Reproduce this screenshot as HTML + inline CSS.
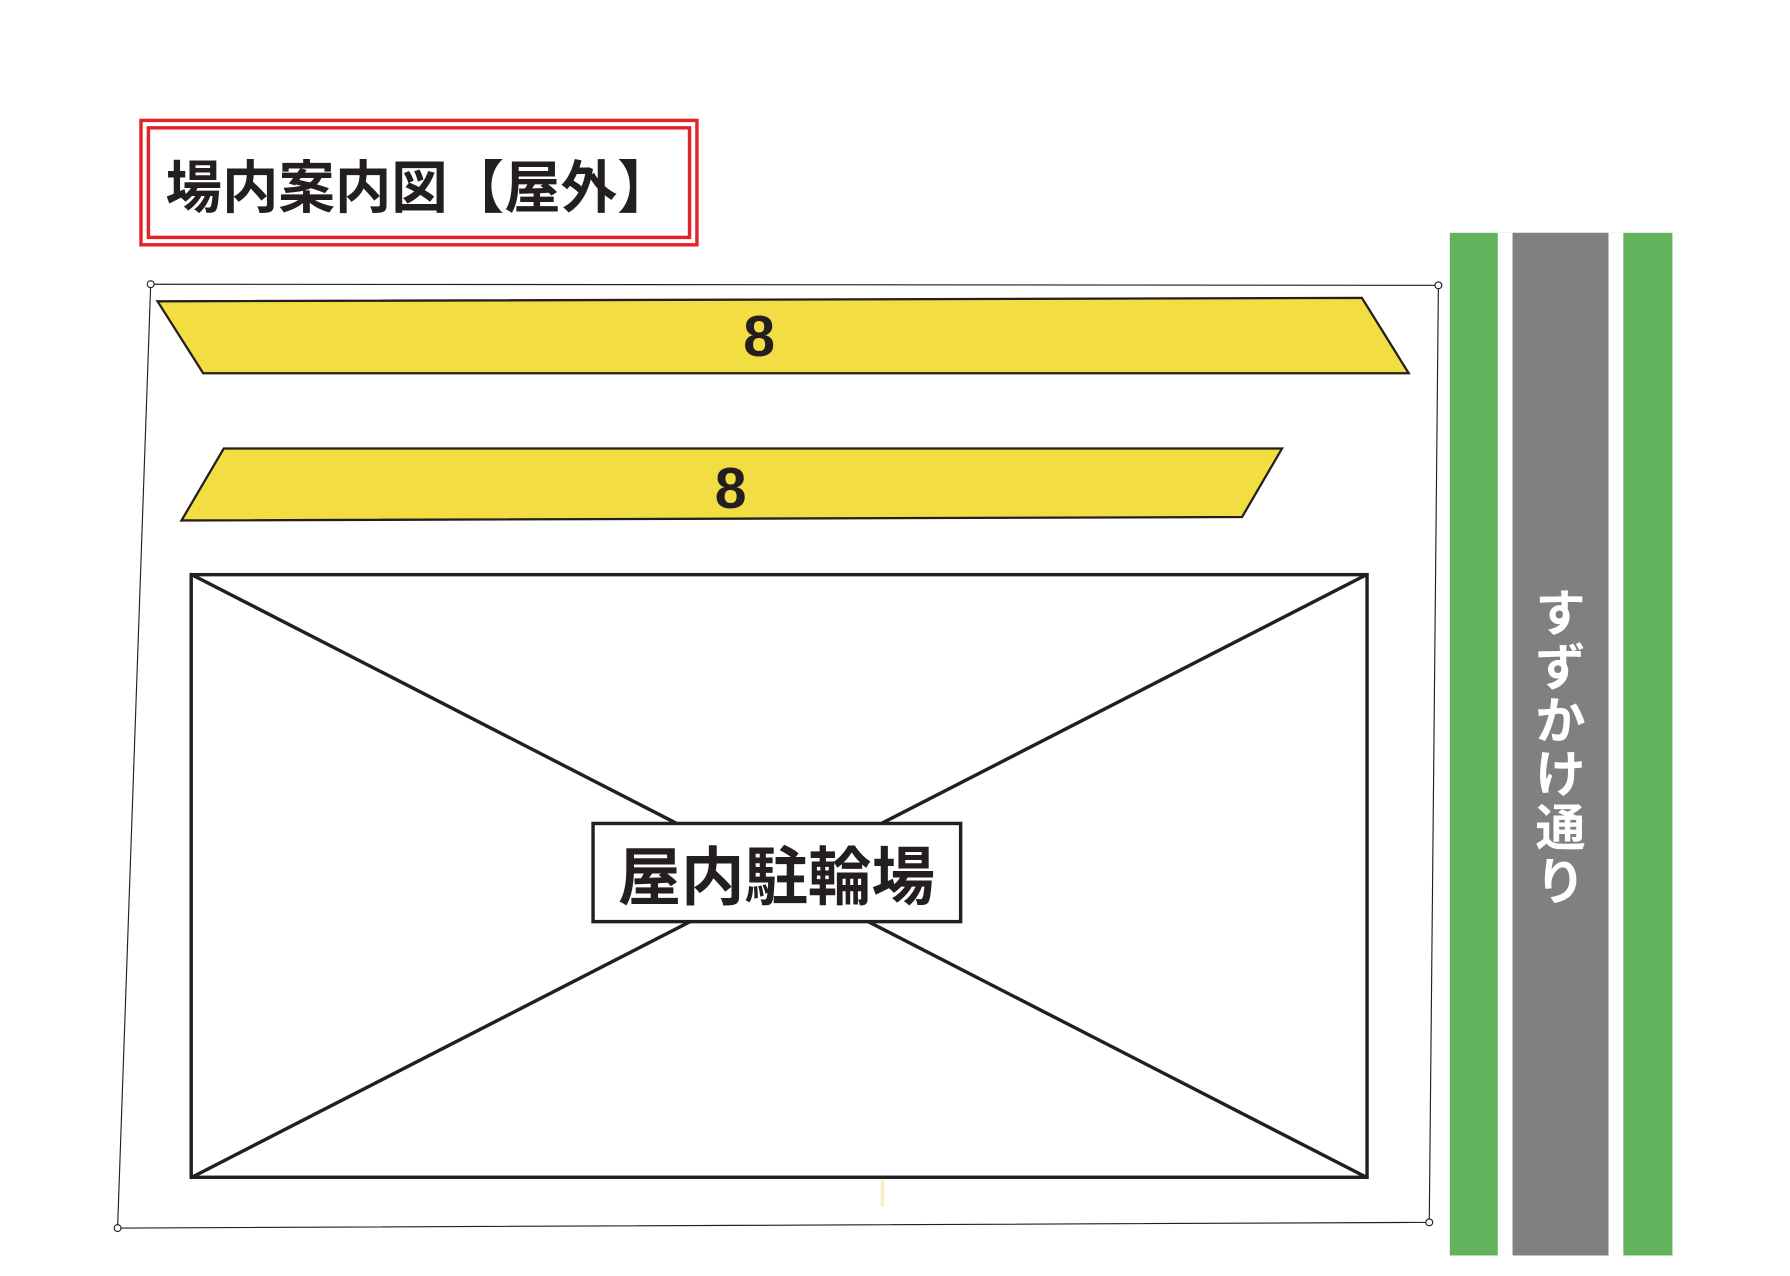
<!DOCTYPE html>
<html><head><meta charset="utf-8"><style>
html,body{margin:0;padding:0;background:#fff;width:1790px;height:1276px;overflow:hidden}
svg{display:block}
text{font-family:"Liberation Sans","Noto Sans CJK JP",sans-serif;font-weight:bold}
</style></head><body>
<svg width="1790" height="1276" viewBox="0 0 1568 1118" preserveAspectRatio="none">
<rect x="0" y="0" width="1568" height="1118" fill="#fff"/>
<rect x="123.5" y="105.5" width="487" height="109" fill="none" stroke="#e2242a" stroke-width="3"/>
<rect x="130" y="112" width="474" height="96" fill="none" stroke="#e2242a" stroke-width="3"/>
<text x="145" y="182" font-size="50" fill="#231f20" textLength="445" lengthAdjust="spacingAndGlyphs">場内案内図【屋外】</text>
<rect x="1270" y="204" width="195" height="896" fill="#61b45c"/>
<rect x="1312" y="204" width="13" height="896" fill="#fff"/>
<rect x="1409" y="204" width="13" height="896" fill="#fff"/>
<rect x="1325" y="204" width="84" height="896" fill="#808080"/>
<g fill="#fff" font-size="44" text-anchor="middle">
<text x="1367" y="553">す</text>
<text x="1367" y="600">ず</text>
<text x="1367" y="647">か</text>
<text x="1367" y="694">け</text>
<text x="1367" y="741">通</text>
<text x="1367" y="788">り</text>
</g>
<polygon points="132,249 1260,250 1252,1071 103,1076" fill="none" stroke="#231f20" stroke-width="1"/>
<g fill="#fff" stroke="#231f20" stroke-width="1">
<circle cx="132" cy="249" r="3"/><circle cx="1260" cy="250" r="3"/><circle cx="1252" cy="1071" r="3"/><circle cx="103" cy="1076" r="3"/>
</g>
<polygon points="138,264 1193,261 1234,327 178,327" fill="#f2dd43" stroke="#231f20" stroke-width="2"/>
<text x="665" y="312" font-size="50" text-anchor="middle" fill="#231f20">8</text>
<polygon points="196,393 1123,393 1088,453 159,456" fill="#f2dd43" stroke="#231f20" stroke-width="2"/>
<text x="640" y="445" font-size="50" text-anchor="middle" fill="#231f20">8</text>
<line x1="773" y1="1034" x2="773" y2="1057" stroke="#f6eec0" stroke-width="3"/>
<rect x="167.5" y="503.5" width="1030" height="528" fill="#fff" stroke="#231f20" stroke-width="3"/>
<line x1="167" y1="503" x2="1198" y2="1032" stroke="#231f20" stroke-width="3"/>
<line x1="1198" y1="503" x2="167" y2="1032" stroke="#231f20" stroke-width="3"/>
<rect x="519.5" y="721.5" width="322" height="86" fill="#fff" stroke="#231f20" stroke-width="3"/>
<text x="680" y="788" font-size="56" text-anchor="middle" fill="#231f20" textLength="278" lengthAdjust="spacingAndGlyphs">屋内駐輪場</text>
</svg>
</body></html>
